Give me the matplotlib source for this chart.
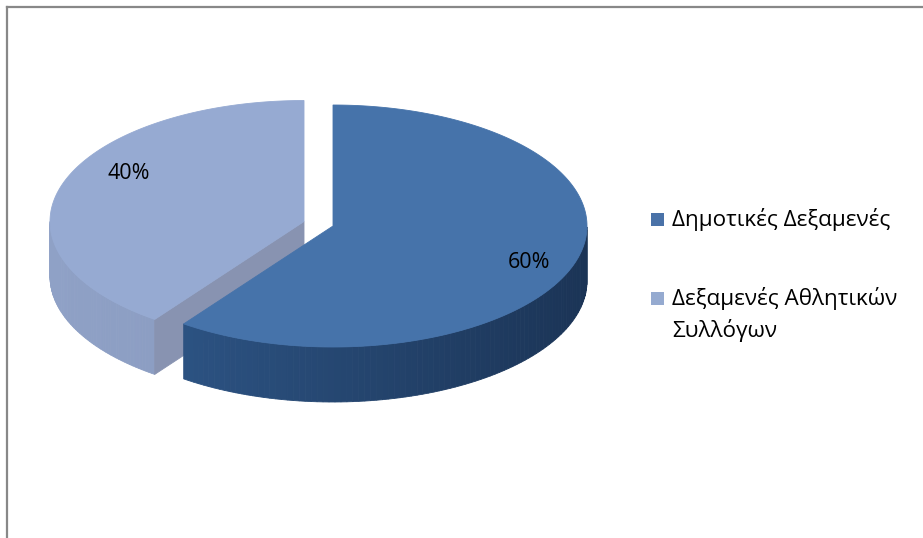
import numpy as np
import matplotlib
matplotlib.use("Agg")
import matplotlib.pyplot as plt
from matplotlib.patches import Polygon, Rectangle
from matplotlib.lines import Line2D
from matplotlib.colors import to_rgb

# ---- data -------------------------------------------------------------
labels = ["Δημοτικές Δεξαμενές", "Δεξαμενές Αθλητικών\nΣυλλόγων"]
shares = [60, 40]
pct_labels = ["60%", "40%"]
explode = [0.0, 0.12]

# ---- styling ----------------------------------------------------------
top_colors = ["#4673AA", "#96AAD2"]
side_colors = [("#305A8D", "#1B3456"), ("#8FA1C6", "#8192B8")]
wall_colors = ["#2A4F7E", "#8893B1"]
legend_colors = ["#4A72A8", "#95AAD0"]

W, H = 923, 538
cx, cy = 333, 226          # centre of the pie's top face (pixels)
ra, rb = 254, 121          # ellipse semi-axes of the top face
depth = 55                 # thickness of the 3D disc
FONT = ["Open Sans", "DejaVu Sans"]
FS_LEG = 16.2
FS_PCT = 15.5

fig = plt.figure(figsize=(W / 100, H / 100), dpi=100)
ax = fig.add_axes([0, 0, 1, 1])
ax.set_xlim(0, W)
ax.set_ylim(H, 0)
ax.axis("off")


def rim(x0, y0, th, z=0.0):
    """Point on the rim at math angle th (radians), lowered by z pixels."""
    return (x0 + ra * np.cos(th), y0 - rb * np.sin(th) + z)


def mix(c1, c2, t):
    a, b = np.array(to_rgb(c1)), np.array(to_rgb(c2))
    return tuple(a + (b - a) * t)


# slice angle ranges, clockwise from 12 o'clock
total = float(sum(shares))
starts, ends = [], []
ang = 90.0
for v in shares:
    starts.append(ang)
    ang -= 360.0 * v / total
    ends.append(ang)

mids = [(s + e) / 2 for s, e in zip(starts, ends)]
# draw slices that sit further back first
order = sorted(range(len(shares)), key=lambda i: -np.sin(np.radians(mids[i])))

for i in order:
    s, e = np.radians(starts[i]), np.radians(ends[i])
    m = np.radians(mids[i])
    x0 = cx + explode[i] * ra * np.cos(m)
    y0 = cy - explode[i] * rb * np.sin(m)

    # front side wall (only where the rim faces the viewer)
    n = 160
    ths = np.linspace(e, s, n + 1)
    lo_c, hi_c = side_colors[i]
    for k in range(n):
        a0, a1 = ths[k], ths[k + 1]
        amid = (a0 + a1) / 2
        if np.sin(amid) >= 0:
            continue
        # shade from the left (lighter) to the right (darker)
        t = (1 - np.cos(amid)) / 2
        col = mix(hi_c, lo_c, t)
        quad = [rim(x0, y0, a0), rim(x0, y0, a1),
                rim(x0, y0, a1, depth), rim(x0, y0, a0, depth)]
        ax.add_patch(Polygon(quad, closed=True, facecolor=col,
                             edgecolor=col, lw=0.6, zorder=2))

    # radial cut walls facing the viewer
    for wall_ang, vis in ((s, np.cos(s) < -1e-6), (e, np.cos(e) > 1e-6)):
        if vis:
            quad = [(x0, y0), rim(x0, y0, wall_ang),
                    rim(x0, y0, wall_ang, depth), (x0, y0 + depth)]
            ax.add_patch(Polygon(quad, closed=True, facecolor=wall_colors[i],
                                 edgecolor=wall_colors[i], lw=0.6, zorder=2))

    # top face
    tt = np.linspace(s, e, 200)
    pts = [(x0, y0)] + [rim(x0, y0, t) for t in tt]
    ax.add_patch(Polygon(pts, closed=True, facecolor=top_colors[i],
                         edgecolor=top_colors[i], lw=0.6, zorder=3))

# percentage labels
label_offsets = [(0.77, -0.30), (-0.69, 0.40)]
for i in range(len(shares)):
    m = np.radians(mids[i])
    x0 = cx + explode[i] * ra * np.cos(m)
    y0 = cy - explode[i] * rb * np.sin(m)
    fx, fy = label_offsets[i]
    ax.text(x0 + fx * ra, y0 - fy * rb, pct_labels[i], ha="center",
            va="center", fontsize=FS_PCT, family=FONT, color="#000000",
            zorder=5)

# legend
leg_x, leg_y0, leg_step, line_h = 651, 226, 79, 32.5
for i, lab in enumerate(labels):
    base = leg_y0 + i * leg_step
    ax.add_patch(Rectangle((leg_x, base - 13), 13, 13,
                           facecolor=legend_colors[i], edgecolor="none"))
    for j, line in enumerate(lab.split("\n")):
        ax.text(leg_x + 21, base + j * line_h, line, ha="left",
                va="baseline", fontsize=FS_LEG, family=FONT, color="#000000")

# chart frame (top and left edges)
fig.add_artist(Line2D([6.5 / W, 1.0], [1 - 6.5 / H, 1 - 6.5 / H],
                      transform=fig.transFigure, color="#888888", lw=1.6))
fig.add_artist(Line2D([6.5 / W, 6.5 / W], [0.0, 1 - 6.5 / H],
                      transform=fig.transFigure, color="#888888", lw=1.6))

fig.savefig("out.png", dpi=100, facecolor="white")
